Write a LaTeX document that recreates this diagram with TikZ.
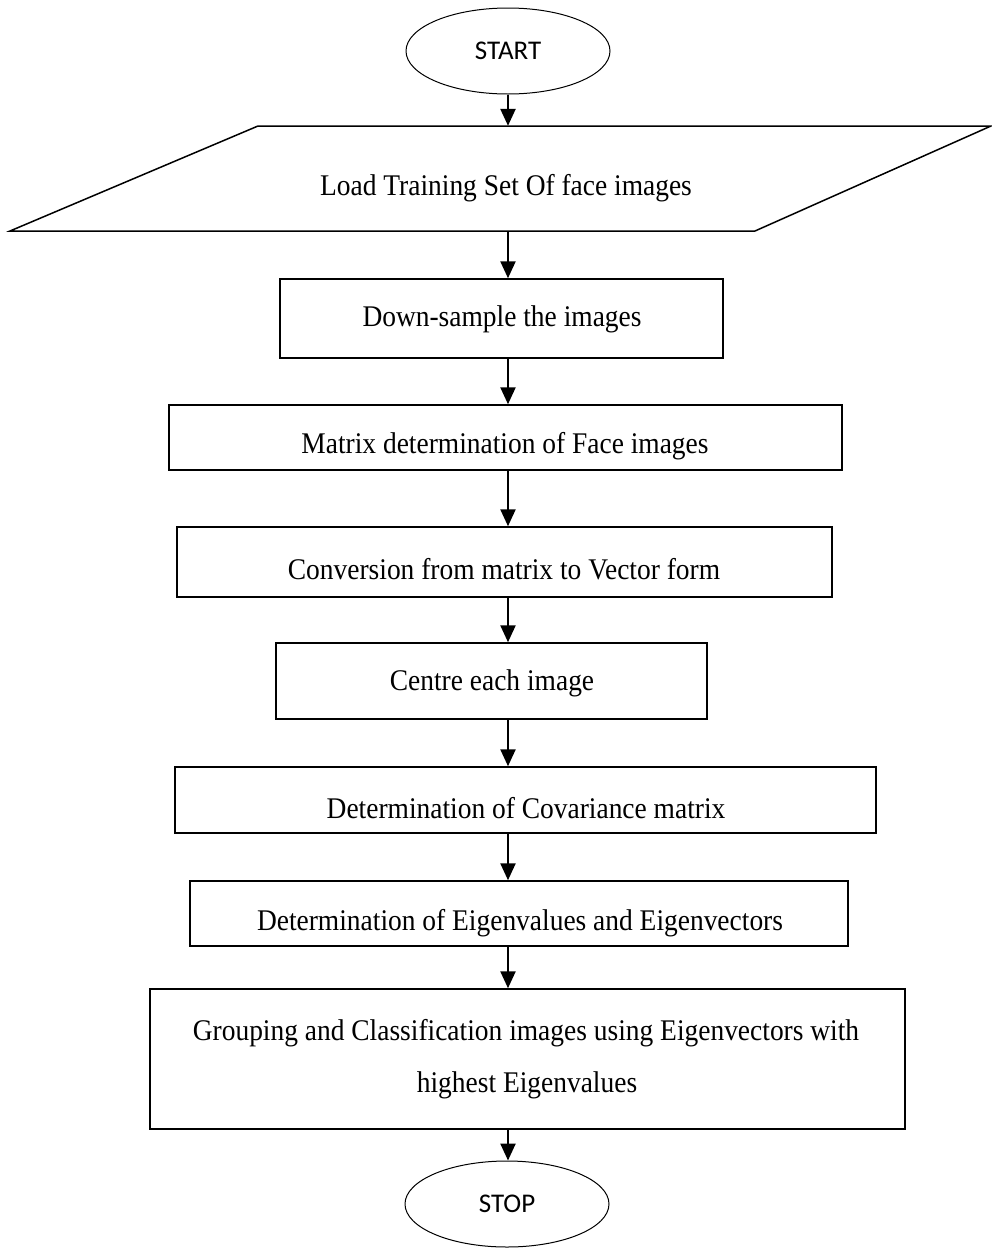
\documentclass[tikz,border=0pt]{standalone}
\usepackage{fontspec}
\setmainfont{Liberation Serif}[FakeStretch=0.915]
\newfontfamily\capfont{Carlito}
\usepackage{tikz}
\usetikzlibrary{shapes.geometric, arrows.meta}

\begin{document}
\begin{tikzpicture}[x=1pt,y=-1pt,inner sep=0pt,
  term/.style={draw,ellipse,line width=1pt,minimum width=204pt,minimum height=86pt,font=\capfont\fontsize{27}{31}\selectfont},
  box/.style={draw,rectangle,line width=1.5pt},
  txt/.style={font=\fontsize{30}{36}\selectfont},
  flow/.style={line width=2.4pt,-{Triangle[length=17pt,width=15pt]}}]
\useasboundingbox (0,0) rectangle (991,1248);
\coordinate (spine) at (508,0);
% terminals
\node [term] (start) at (508,51)   {START};
\node [term] (stop)  at (507,1204) {STOP};
% input
\draw [line width=1.5pt] (258,126) -- (991,126) -- (755,231) -- (10,231) -- cycle;
\node [minimum height=105pt,minimum width=500pt] (load) at (508,178.5) {};
\node [txt] (loadtxt) at (506,188) {Load Training Set Of face images};
% process boxes
\node [box,minimum width=443pt,minimum height=79pt]  (down)   at (501.5,318.5) {};
\node [box,minimum width=673pt,minimum height=65pt]  (matx)   at (505.5,437.5) {};
\node [box,minimum width=655pt,minimum height=70pt]  (conv)   at (504.5,562)   {};
\node [box,minimum width=431pt,minimum height=76pt]  (centre) at (491.5,681)   {};
\node [box,minimum width=701pt,minimum height=66pt]  (cov)    at (525.5,800)   {};
\node [box,minimum width=658pt,minimum height=65pt]  (eig)    at (519,913.5)   {};
\node [box,minimum width=755pt,minimum height=140pt] (group)  at (527.5,1059)  {};
% box texts
\node [txt] (downtxt)   at (502,319)  {Down-sample the images};
\node [txt] (matxtxt)   at (505,446)  {Matrix determination of Face images};
\node [txt] (convtxt)   at (504,569)  {Conversion from matrix to Vector form};
\node [txt] (centretxt) at (492,683)  {Centre each image};
\node [txt] (covtxt)    at (526,808)  {Determination of Covariance matrix};
\node [txt] (eigtxt)    at (520,923)  {Determination of Eigenvalues and Eigenvectors};
\node [txt] (grouptxt1) at (526,1033) {Grouping and Classification images using Eigenvectors with};
\node [txt] (grouptxt2) at (527,1085) {highest Eigenvalues};
% arrows
\draw [flow] (start.south -| spine)  -- (load.north -| spine);
\draw [flow] (load.south -| spine)   -- (down.north -| spine);
\draw [flow] (down.south -| spine)   -- (matx.north -| spine);
\draw [flow] (matx.south -| spine)   -- (conv.north -| spine);
\draw [flow] (conv.south -| spine)   -- (centre.north -| spine);
\draw [flow] (centre.south -| spine) -- (cov.north -| spine);
\draw [flow] (cov.south -| spine)    -- (eig.north -| spine);
\draw [flow] (eig.south -| spine)    -- (group.north -| spine);
\draw [flow] (group.south -| spine)  -- (stop.north -| spine);
\end{tikzpicture}
\end{document}
